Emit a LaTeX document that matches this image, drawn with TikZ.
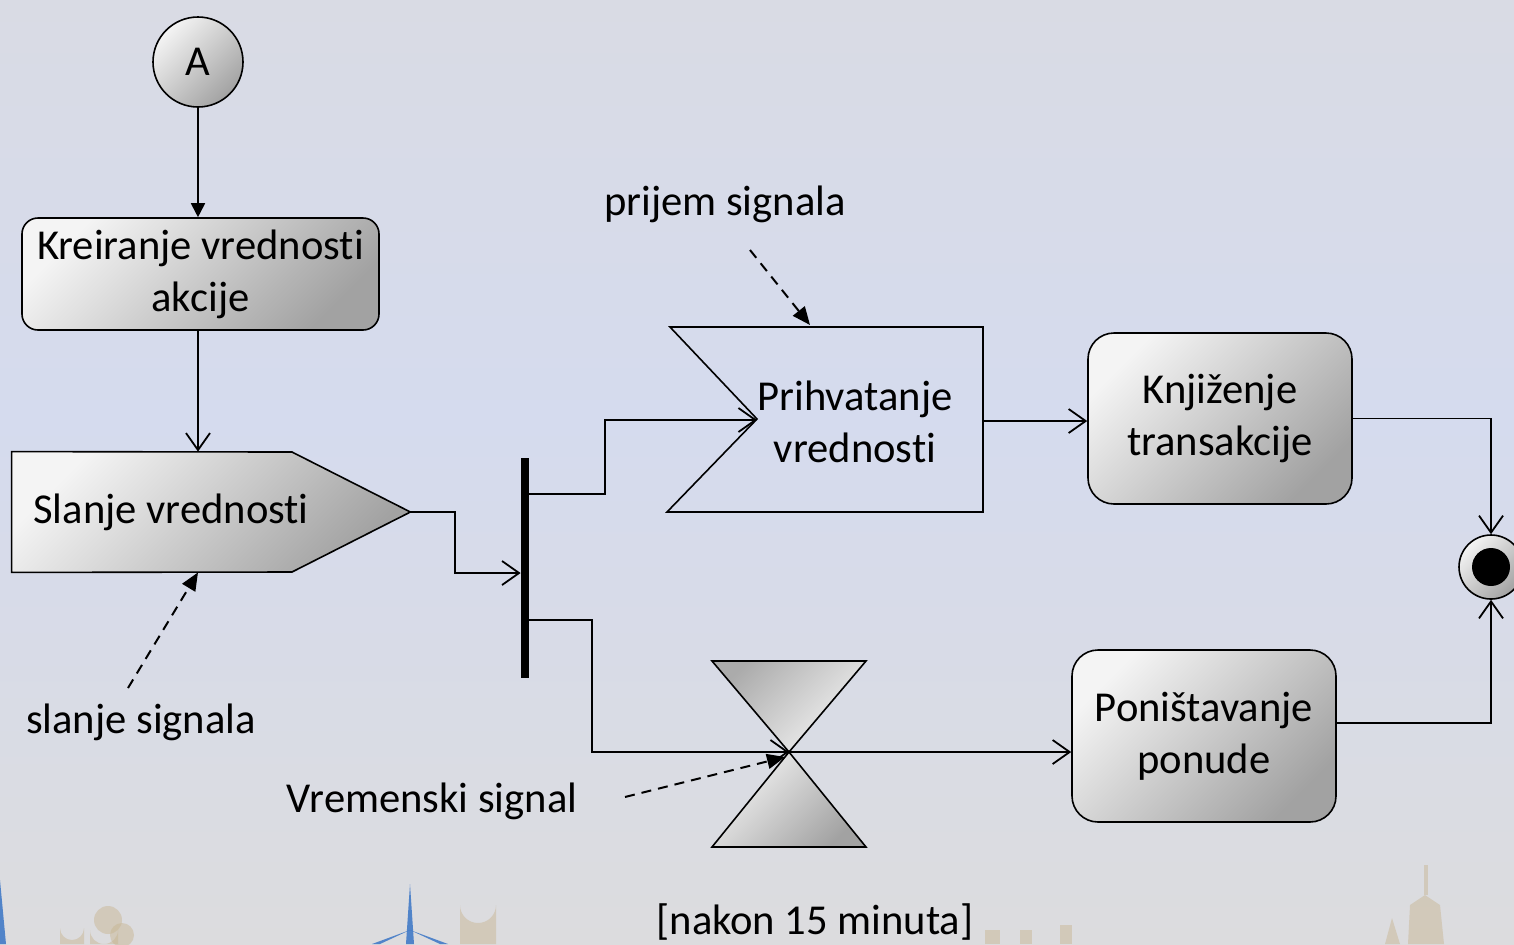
\documentclass[tikz,border=0pt]{standalone}
\usepackage{fontspec}
\setmainfont{Carlito}[RawFeature={-liga;-clig;-calt;-dlig}]
\usetikzlibrary{arrows.meta,calc}
\definecolor{bgtop}{HTML}{D9DBE4}
\definecolor{bgmid}{HTML}{D5DBEE}
\definecolor{bgbot}{HTML}{DCDCDE}
\definecolor{tan}{HTML}{C6B38E}
\definecolor{spire}{HTML}{2F6EC4}
\definecolor{shlight}{HTML}{F4F4F4}
\definecolor{shdark}{HTML}{A2A2A2}
\begin{document}
\begin{tikzpicture}[x=0.5pt,y=-0.5pt,
  every node/.style={font=\fontsize{21.3}{26}\selectfont, text=black},
  gfill/.style={top color=shlight, bottom color=shdark, shading angle=45},
  gfillrev/.style={top color=shdark!90, bottom color=shlight, shading angle=45},
  outline/.style={draw=black, line width=0.8pt},
  actbox/.style={outline, gfill, rectangle, align=center, inner sep=0pt},
  conn/.style={draw=black, line width=0.9pt},
  oarr/.style={-{Straight Barb[length=8.5pt,width=12pt,line width=0.9pt]}},
  farr/.style={-{Triangle[length=9pt,width=7.5pt]}},
  dsh/.style={conn, line width=1pt, dash pattern=on 5pt off 3.5pt, farr}]

% page and background
\useasboundingbox (0,0) rectangle (1514,944);
\shade[top color=bgtop, bottom color=bgmid] (0,0) rectangle (1514,420);
\shade[top color=bgmid, bottom color=bgbot] (0,419) rectangle (1514,944);

% faint skyline along the bottom edge
\begin{scope}[opacity=0.45]
  \fill[tan] (60,944) -- (60,928) arc[start angle=180,end angle=0,radius=12] -- (84,944) -- cycle;
  \fill[tan] (90,944) -- (90,930) arc[start angle=180,end angle=0,radius=14] -- (118,944) -- cycle;
  \fill[tan] (108,920) circle (14);
  \fill[tan] (122,935) circle (12);
  \fill[tan] (460,944) -- (460,905) arc[start angle=180,end angle=0,radius=18] -- (496,944) -- cycle;
  \fill[tan] (985,944) rectangle (1000,930);
  \fill[tan] (1020,944) rectangle (1032,930);
  \fill[tan] (1060,944) rectangle (1072,925);
  \fill[tan] (1408,944) -- (1410,905) -- (1425,895) -- (1440,905) -- (1444,944) -- cycle;
  \fill[tan] (1424,895) rectangle (1428,865);
  \fill[tan] (1385,944) -- (1392,918) -- (1400,944) -- cycle;
\end{scope}
\begin{scope}[opacity=0.8]
  \fill[spire] (0,880) -- (6,944) -- (0,944) -- cycle;
  \fill[spire] (410,884) -- (414,944) -- (406,944) -- cycle;
  \fill[spire] (410,930) -- (372,944) -- (380,944) -- cycle;
  \fill[spire] (410,930) -- (440,944) -- (448,944) -- cycle;
\end{scope}

% initial connector A
\node[outline, gfill, circle, minimum size=45pt, inner sep=0pt] (A) at (198,62) {A};

% action nodes
\node[actbox, rounded corners=8pt, minimum width=178.5pt, minimum height=56pt] (kre) at (200.5,274) {Kreiranje vrednosti\\akcije};
\node[actbox, rounded corners=13pt, minimum width=132pt, minimum height=85.5pt] (knj) at (1220,418.5) {Knjiženje\\transakcije};
\node[actbox, rounded corners=13pt, minimum width=132pt, minimum height=86pt] (pon) at (1204,736) {Poništavanje\\ponude};

% send signal action
\node[minimum width=199pt, minimum height=60pt, inner sep=0pt] (sla) at (211,512) {};
\draw[outline, gfill] (sla.north west) -- (292,452) -- (sla.east) -- (292,572) -- (sla.south west) -- cycle;
\node[anchor=west, inner sep=0pt] (slatxt) at (33,512) {Slanje vrednosti};

% fork bar
\node[fill=black, minimum width=4pt, minimum height=110pt, inner sep=0pt] (fork) at (525,568) {};

% accept signal action
\draw[outline] (670,327) -- (983,327) -- (983,512) -- (667,512) -- (757,419) -- cycle;
\coordinate (notch) at (757,420);
\coordinate (accR) at (983,421);
\node[align=center] (prihv) at (855,422) {Prihvatanje\\vrednosti};

% time signal (hourglass)
\coordinate (hg) at (789,752);
\draw[outline, gfillrev] (712,661) -- (866,661) -- (hg) -- cycle;
\draw[outline, gfill] (hg) -- (866,847) -- (712,847) -- cycle;

% final node
\node[outline, gfill, circle, minimum size=32pt, inner sep=0pt] (fin) at (1491,567) {};
\fill[black] (fin.center) circle (9.5pt);

% control flows
\draw[conn, -{Triangle[length=7pt,width=7pt]}] (A.south) -- (A.south |- kre.north);
\draw[conn, oarr] (A |- kre.south) -- (A |- sla.north);
\coordinate (forkin) at ($(fork.west)+(0,5)$);
\draw[conn, oarr] (sla.east) -- (455,512) |- (forkin);
\coordinate (forkup) at ($(fork.east)+(0,-74)$);
\coordinate (forkdn) at ($(fork.east)+(0,52)$);
\draw[conn, oarr] (forkup) -- (605,494) |- (notch);
\draw[conn, oarr] (forkdn) -- (592,620) |- (hg);
\draw[conn, oarr] (hg) -- (pon.west |- hg);
\draw[conn, oarr] (accR) -- (knj.west |- accR);
\draw[conn, oarr] (knj.east) -- (fin.north |- knj.east) -- (fin.north);
\coordinate (ponout) at ($(pon.east)+(0,-13)$);
\draw[conn, oarr] (ponout) -- (fin.south |- ponout) -- (fin.south);

% annotations
\node (lprijem) at (725,204) {prijem signala};
\coordinate (pstart) at (750,250);
\draw[dsh] (pstart) -- (810,325);
\node (lslanje) at (141,722) {slanje signala};
\coordinate (sstart) at (128,688);
\draw[dsh] (sstart) -- (A |- sla.south);
\node (lvrem) at (432,801) {Vremenski signal};
\coordinate (vstart) at (625,797);
\draw[dsh] (vstart) -- ($(hg)+(-4,5)$);
\node (lnakon) at (815,922) {[nakon 15 minuta]};
\end{tikzpicture}
\end{document}
